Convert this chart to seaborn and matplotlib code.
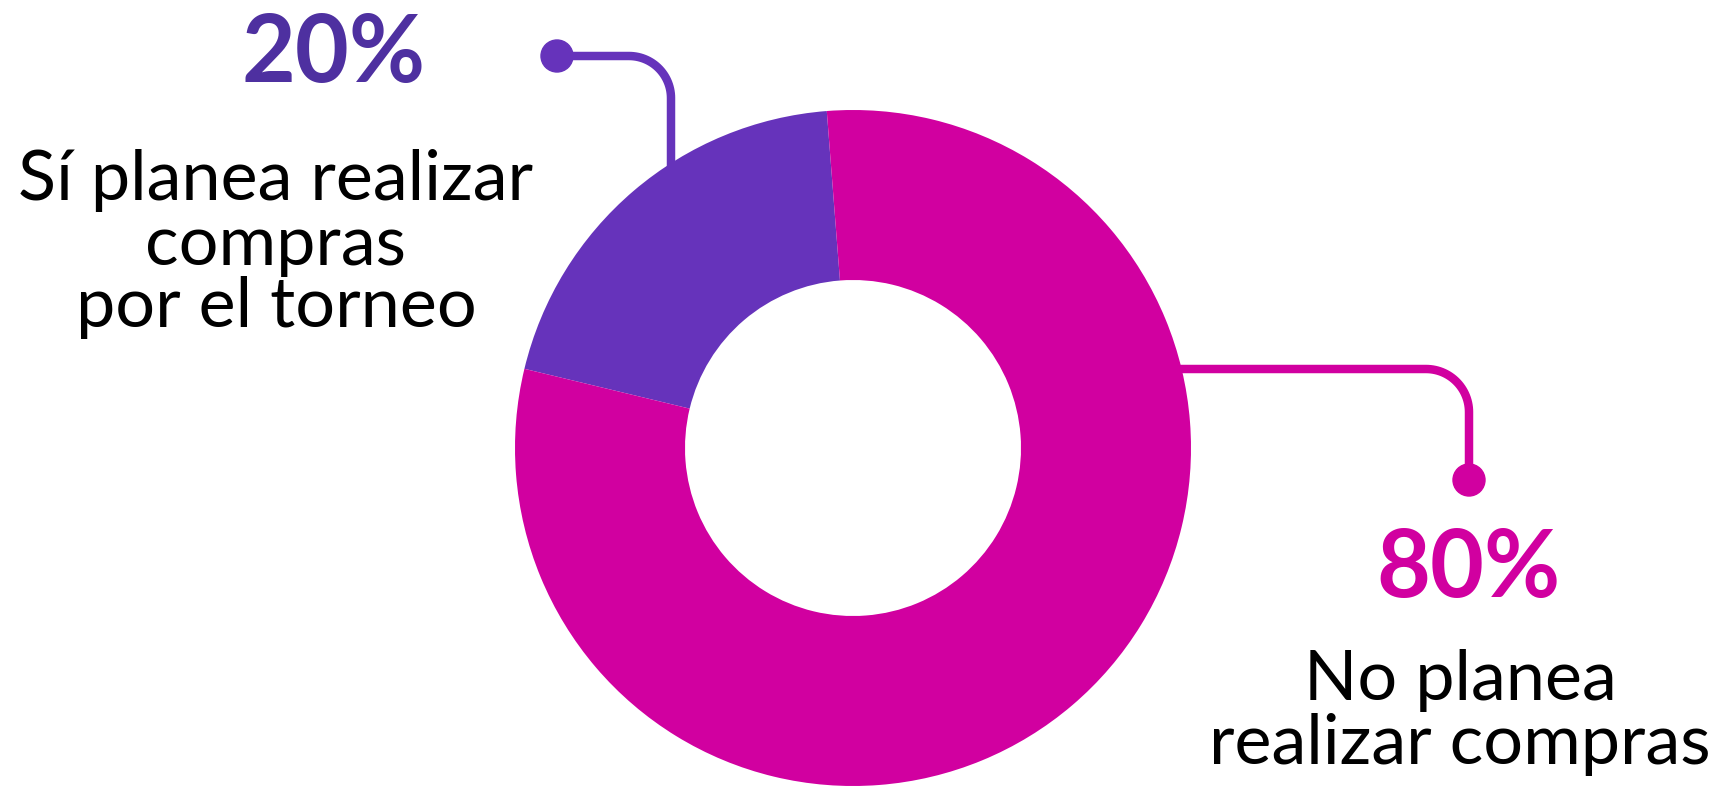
import matplotlib
matplotlib.use("Agg")
import matplotlib.pyplot as plt
from matplotlib.path import Path
from matplotlib.patches import PathPatch, Circle
import numpy as np
import seaborn as sns

# ---- data ----
categories = ["Sí planea realizar compras por el torneo", "No planea realizar compras"]
values = [20, 80]
pct_labels = ["20%", "80%"]
label_lines = [["Sí planea realizar", "compras", "por el torneo"],
               ["No planea", "realizar compras"]]

# ---- style ----
sns.set_theme(style="white")
FONT = "Lato"
plt.rcParams["font.family"] = [FONT, "DejaVu Sans"]

wedge_colors = ["#6633BB", "#D100A0"]
pct_colors = ["#4E30A0", "#D100A0"]

W, H = 1711, 786
fig = plt.figure(figsize=(W / 100, H / 100), dpi=100)
ax = fig.add_axes([0, 0, 1, 1])

cx, cy = 853, H - 448
R_out, ring = 338, 170
LW = 6.1  # pt


def connector(x0, y_h, x_v, y_end, radius, color):
    """horizontal from (x0, y_h) to a rounded corner, then vertical to y_end."""
    t = np.linspace(np.pi / 2, 0, 30)
    acx, acy = x_v - radius, y_h - radius
    arc = np.column_stack([acx + radius * np.cos(t), acy + radius * np.sin(t)])
    verts = np.vstack([[x0, y_h], arc, [x_v, y_end]])
    ax.add_patch(PathPatch(Path(verts), facecolor="none", edgecolor=color,
                           lw=LW, capstyle="butt", joinstyle="round", zorder=1))


# purple connector (dot -> right -> down into ring)
connector(557, H - 56, 671, H - 230, 42, wedge_colors[0])
ax.add_patch(Circle((557, H - 56), 16, color=wedge_colors[0], zorder=3))

# magenta connector (ring -> right -> down to dot)
connector(1120, H - 369, 1469, H - 480, 43, wedge_colors[1])
ax.add_patch(Circle((1469, H - 480), 16, color=wedge_colors[1], zorder=3))

# donut
ax.pie(values, colors=wedge_colors, startangle=94.45, counterclock=True,
       center=(cx, cy), radius=R_out,
       wedgeprops=dict(width=ring, edgecolor="none", zorder=2),
       frame=True)

ax.set_xlim(0, W)
ax.set_ylim(0, H)
ax.set_aspect("equal")
ax.axis("off")

# percentages
ax.text(334, H - 82, pct_labels[0], color=pct_colors[0], fontsize=67,
        fontweight="bold", ha="center", va="baseline")
ax.text(1469, H - 597, pct_labels[1], color=pct_colors[1], fontsize=67,
        fontweight="bold", ha="center", va="baseline")

# category labels
for line, yb in zip(label_lines[0], [200, 265, 327]):
    ax.text(276, H - yb, line, color="black", fontsize=50.5, ha="center",
            va="baseline")
for line, yb in zip(label_lines[1], [700, 764]):
    ax.text(1460, H - yb, line, color="black", fontsize=50.5, ha="center",
            va="baseline")

fig.savefig("out.png", dpi=100, facecolor="white")
